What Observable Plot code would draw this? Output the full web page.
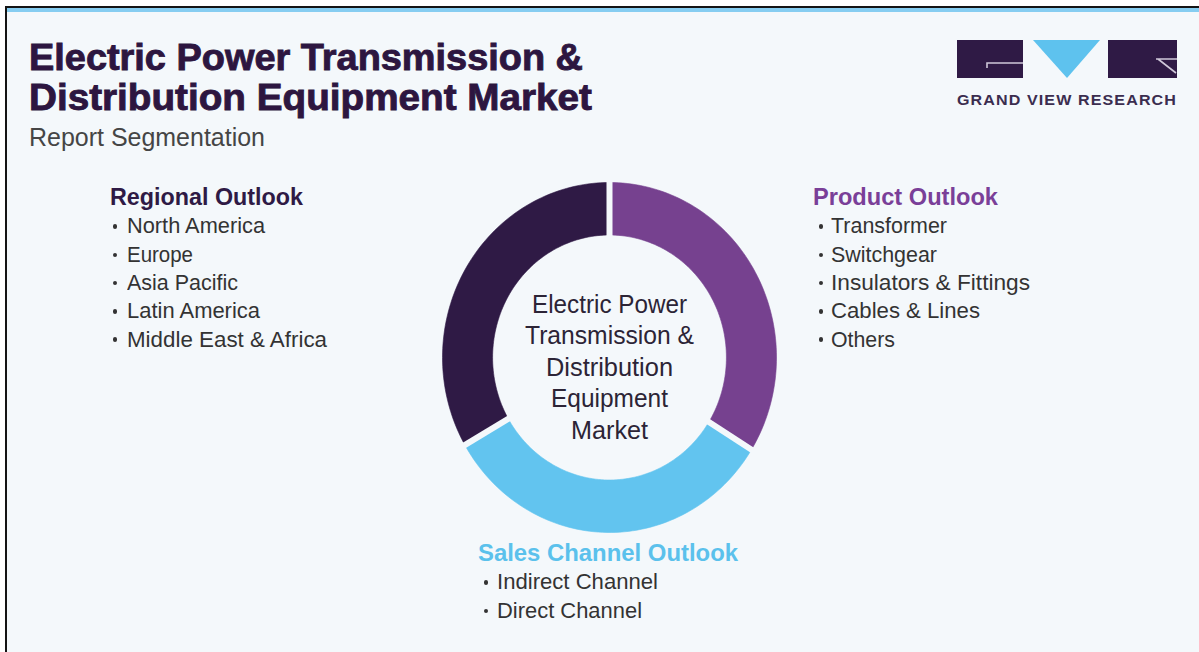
<!DOCTYPE html>
<html>
<head>
<meta charset="utf-8">
<script src="https://cdn.jsdelivr.net/npm/d3@7"></script>
<script src="https://cdn.jsdelivr.net/npm/@observablehq/plot@0.6"></script>
<style>
  html, body { margin: 0; padding: 0; background: #ffffff; width: 1199px; height: 652px; overflow: hidden; }
  #frame { position: absolute; left: 5px; top: 6px; width: 1194px; height: 646px; background: #f4f8fb;
           border-left: 2px solid #141414; border-top: 2px solid #141414; box-sizing: border-box; }
  #stripe { position: absolute; left: 7px; top: 8px; width: 1192px; height: 4px; background: #86cdf1; }
  .t { position: absolute; white-space: nowrap; line-height: 1; transform-origin: 0 0;
       font-family: "Liberation Sans", Arial, sans-serif; }
  .dot { position: absolute; width: 4.5px; height: 4.5px; border-radius: 50%; background: #333; }
  #donut { position: absolute; left: 420px; top: 170px; }
</style>
</head>
<body>
<div id="frame"></div>
<div id="stripe"></div>
<svg id="logo" style="position:absolute;left:957px;top:40px" width="222" height="40">
  <rect x="0" y="0" width="66" height="38" fill="#2f1a45"/>
  <path d="M30,28 L30,23 L66,23" fill="none" stroke="#cfc7d9" stroke-width="1.6"/>
  <polygon points="76,0 143,0 110,38" fill="#5ec2ee"/>
  <rect x="151" y="0" width="69" height="38" fill="#2f1a45"/>
  <path d="M199,19 L220,19 M201,19 L219,33" fill="none" stroke="#cfc7d9" stroke-width="1.6"/>
</svg>
<div id="donut"></div>
<script>
// ---------- data ----------
const titleLines = ["Electric Power Transmission &", "Distribution Equipment Market"];
const subtitle = "Report Segmentation";
const brand = "GRAND VIEW RESEARCH";
const segments = ["Product Outlook", "Sales Channel Outlook", "Regional Outlook"];
const segmentShares = [34, 33, 33.5];
const segmentColors = ["#76418f", "#62c4ef", "#2f1a45"];
const productItems = ["Transformer", "Switchgear", "Insulators & Fittings", "Cables & Lines", "Others"];
const salesItems = ["Indirect Channel", "Direct Channel"];
const regionalItems = ["North America", "Europe", "Asia Pacific", "Latin America", "Middle East & Africa"];
const centerLines = ["Electric Power", "Transmission &", "Distribution", "Equipment", "Market"];

// ---------- layout (positions / widths only) ----------
const titleStyle = {x: 29, baselines: [70, 110], size: 37, widths: [554, 563], color: "#2d1640"};
const subStyle = {x: 29, baseline: 146, size: 26, width: 236, color: "#454545"};
const brandStyle = {x: 957, baseline: 105, size: 14.5, width: 220, color: "#3b2d4f"};
const headingWidths = {"Product Outlook": 185, "Sales Channel Outlook": 260, "Regional Outlook": 193};
const blocks = [
  {heading: "Regional Outlook", items: regionalItems, hx: 110, tx: 127, bx: 115, hb: 205, widths: [138, 66, 111, 133, 200], color: "#2f1a45"},
  {heading: "Product Outlook", items: productItems, hx: 813, tx: 831, bx: 821, hb: 205, widths: [116, 106, 199, 149, 64], color: "#7a3f98"},
  {heading: "Sales Channel Outlook", items: salesItems, hx: 478, tx: 497, bx: 486, hb: 561, widths: [161, 145], color: "#5bc1ec"}
];
const centerWidths = [155, 169, 127, 117, 77];

function place(text, x, baseline, size, color, weight, width, extra) {
  const el = document.createElement("div");
  el.className = "t";
  el.textContent = text;
  el.style.left = x + "px";
  el.style.top = (baseline - 0.85 * size) + "px";
  el.style.fontSize = size + "px";
  el.style.color = color;
  el.style.fontWeight = weight;
  if (extra) Object.assign(el.style, extra);
  document.body.appendChild(el);
  const w = el.getBoundingClientRect().width;
  if (width && w > 0) el.style.transform = `scaleX(${width / w})`;
  return el;
}

titleLines.forEach((line, i) =>
  place(line, titleStyle.x, titleStyle.baselines[i], titleStyle.size, titleStyle.color, 700, titleStyle.widths[i],
        {webkitTextStroke: "0.9px " + titleStyle.color}));
place(subtitle, subStyle.x, subStyle.baseline, subStyle.size, subStyle.color, 400, subStyle.width);
place(brand, brandStyle.x, brandStyle.baseline, brandStyle.size, brandStyle.color, 700, brandStyle.width,
      {letterSpacing: "1px"});

const rowStep = 28.3;
blocks.forEach(b => {
  place(b.heading, b.hx, b.hb, 24, b.color, 700, headingWidths[b.heading]);
  b.items.forEach((item, i) => {
    const base = b.hb + 29 + i * rowStep;
    place(item, b.tx, base, 22, "#333333", 400, b.widths[i]);
    const d = document.createElement("div");
    d.className = "dot";
    d.style.left = (b.bx - 2.25) + "px";
    d.style.top = (base - 7.5 - 2.25) + "px";
    document.body.appendChild(d);
  });
});

// ---------- donut ----------
const total = d3.sum(segmentShares);
let acc = 0;
const wedges = segments.map((name, i) => {
  const a0 = acc / total * 2 * Math.PI;
  acc += segmentShares[i];
  const a1 = acc / total * 2 * Math.PI;
  return {name, a0, a1, color: segmentColors[i]};
});
const R1 = 1, R0 = 0.70, N = 80;
const pts = wedges.flatMap(w => {
  const out = [];
  for (let k = 0; k <= N; ++k) {
    const a = w.a0 + (w.a1 - w.a0) * k / N;
    out.push({name: w.name, color: w.color, x: R1 * Math.sin(a), y: R1 * Math.cos(a)});
  }
  for (let k = N; k >= 0; --k) {
    const a = w.a0 + (w.a1 - w.a0) * k / N;
    out.push({name: w.name, color: w.color, x: R0 * Math.sin(a), y: R0 * Math.cos(a)});
  }
  return out;
});
const cuts = wedges.map(w => ({
  x1: R0 * 0.95 * Math.sin(w.a0), y1: R0 * 0.95 * Math.cos(w.a0),
  x2: R1 * 1.05 * Math.sin(w.a0), y2: R1 * 1.05 * Math.cos(w.a0)
}));

const chart = Plot.plot({
  width: 380,
  height: 380,
  margin: 0,
  x: {domain: [-1, 1], range: [22, 356], axis: null},
  y: {domain: [-1, 1], range: [362, 12], axis: null},
  color: {type: "identity"},
  style: {background: "transparent", overflow: "visible"},
  marks: [
    Plot.line(pts, {x: "x", y: "y", z: "name", fill: "color", stroke: "color", strokeWidth: 0.6, curve: "linear-closed"}),
    Plot.link(cuts, {x1: "x1", y1: "y1", x2: "x2", y2: "y2", stroke: "#f4f8fb", strokeWidth: 6}),
    Plot.text([centerLines.join("\n")], {x: 0, y: 0, dy: 8, text: d => d, fontSize: 25, lineHeight: 1.26,
      fill: "#2c2436", fontFamily: "'Liberation Sans', Arial, sans-serif"})
  ]
});
document.getElementById("donut").appendChild(chart);
chart.querySelectorAll("text tspan").forEach((ts, i) => {
  if (centerWidths[i]) {
    ts.setAttribute("textLength", centerWidths[i]);
    ts.setAttribute("lengthAdjust", "spacingAndGlyphs");
  }
});
</script>
</body>
</html>
